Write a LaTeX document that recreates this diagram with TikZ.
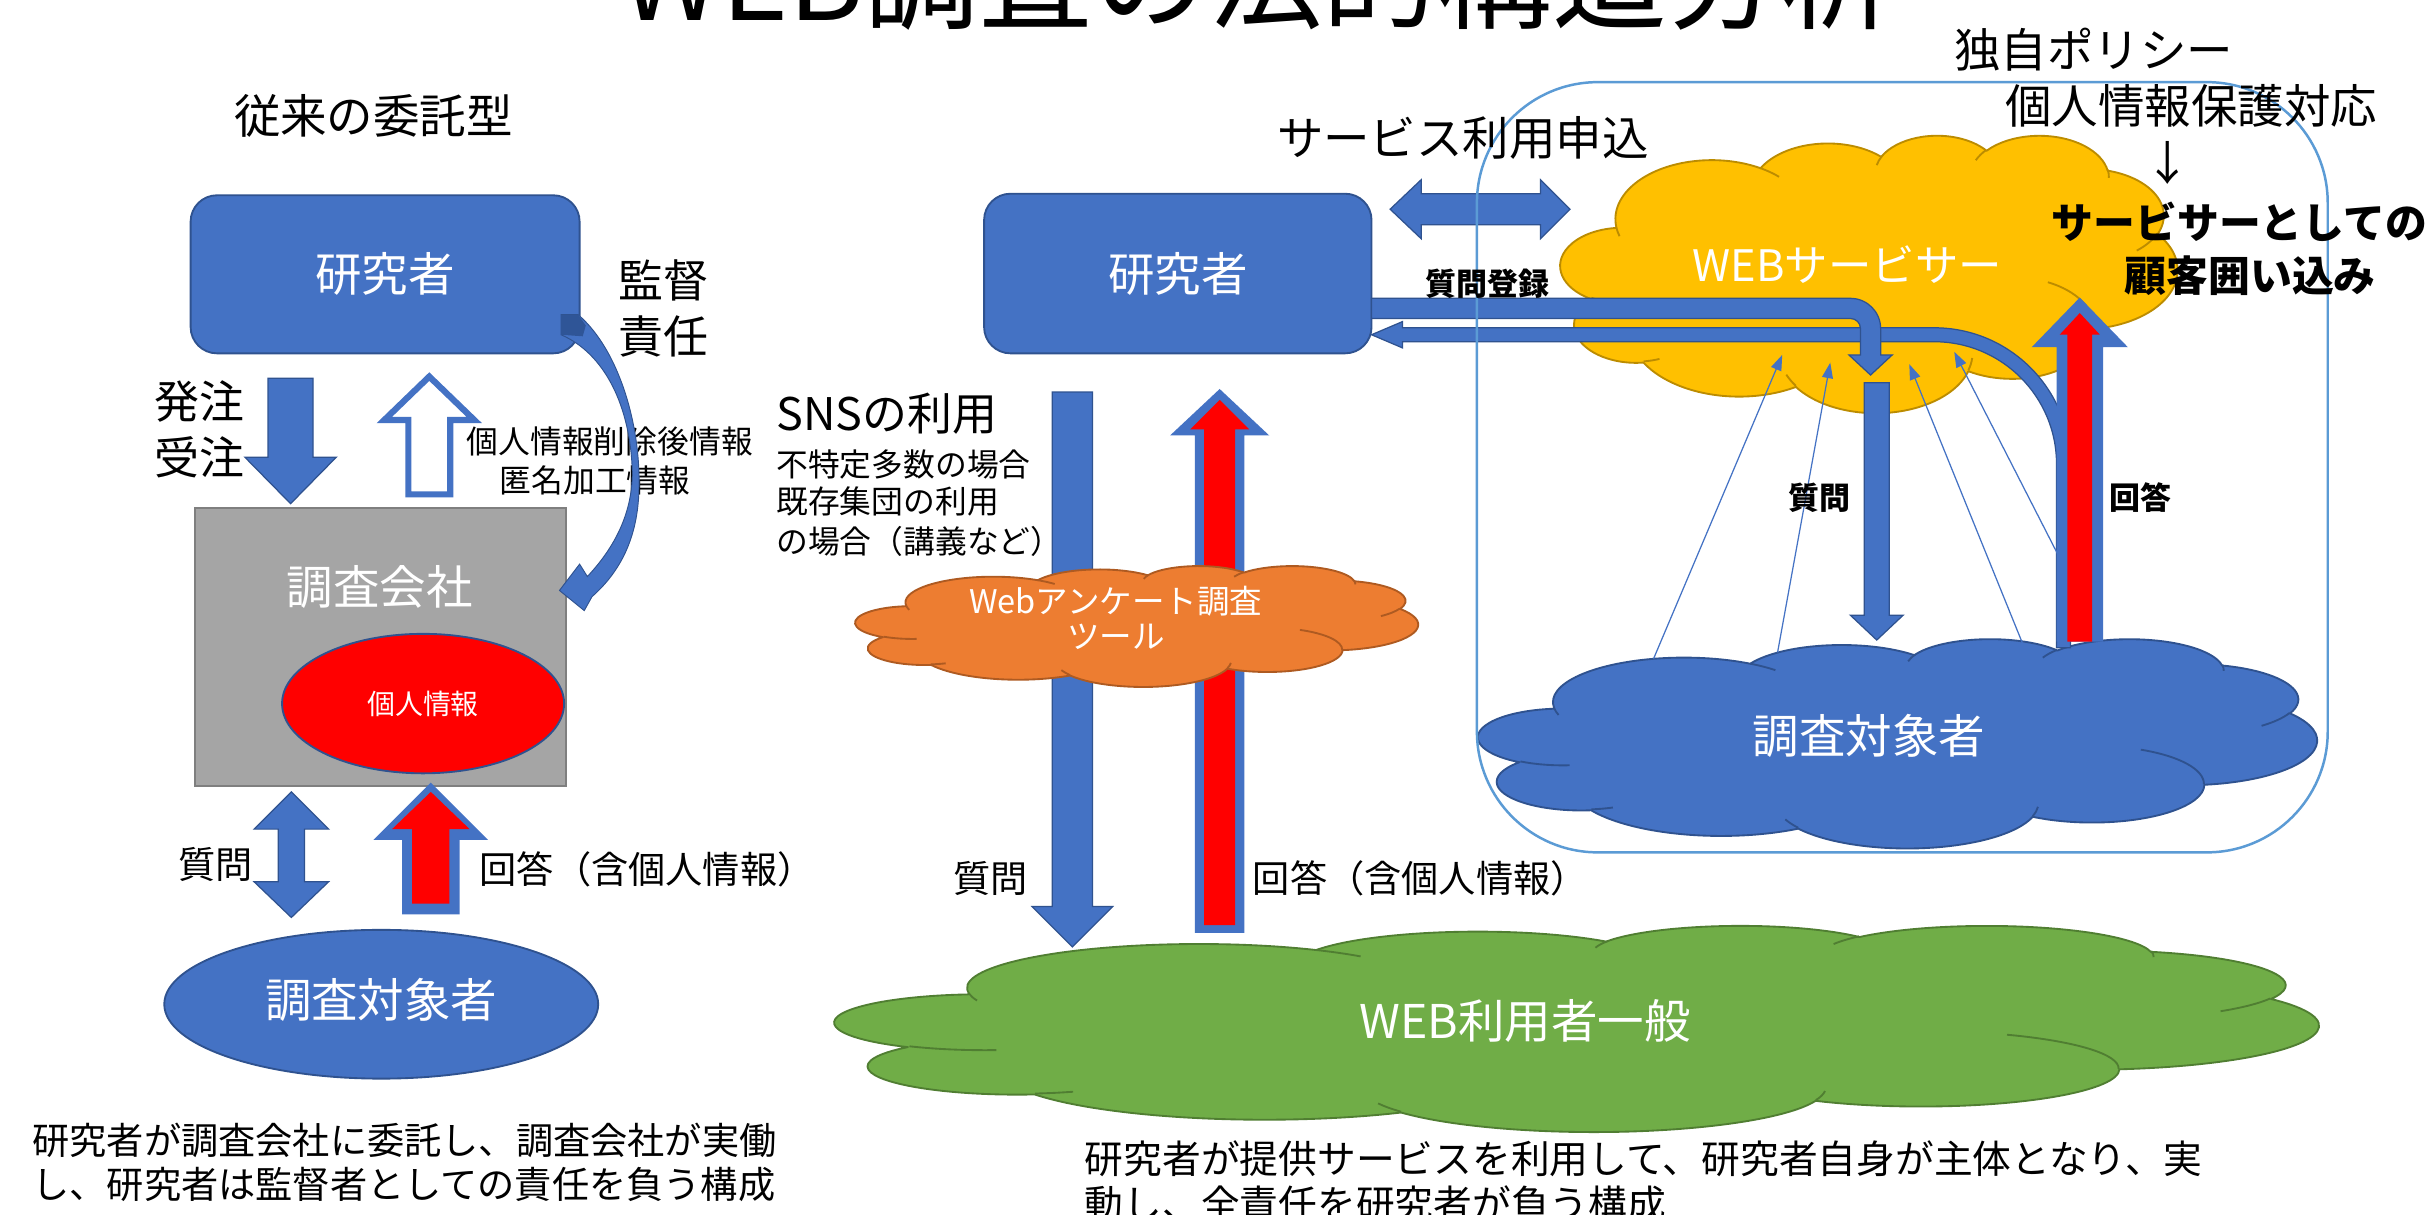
\documentclass[tikz,border=0pt]{standalone}
\usepackage{fontspec}
\setmainfont{Noto Sans CJK JP}
\usetikzlibrary{shapes.geometric,arrows.meta}

\definecolor{accblue}{HTML}{4472C4}
\definecolor{bordblue}{HTML}{2F528F}
\definecolor{darkblue}{HTML}{2F5597}
\definecolor{framblue}{HTML}{5B9BD5}
\definecolor{gold}{HTML}{FFC000}
\definecolor{goldbd}{HTML}{BC8C00}
\definecolor{grn}{HTML}{70AD47}
\definecolor{grnbd}{HTML}{507E32}
\definecolor{orng}{HTML}{ED7D31}
\definecolor{orngbd}{HTML}{AE5A21}
\definecolor{gry}{HTML}{A5A5A5}
\definecolor{grybd}{HTML}{7F7F7F}
\definecolor{redfill}{HTML}{FF0000}

\newcommand\fs[2]{\fontsize{#1}{#2}\selectfont}

% PowerPoint cloud: convert visual angles to parametric ones
\newcommand\mkang[5]{%
  \pgfmathsetmacro\cldA{atan2((#2)*sin(#4),(#3)*cos(#4))}%
  \pgfmathsetmacro\cldB{atan2((#2)*sin((#4)+(#5)),(#3)*cos((#4)+(#5)))}%
  \pgfmathsetmacro\cldD{mod(\cldB-(\cldA)+720,360)}%
  \expandafter\xdef\csname S#1\endcsname{\cldA}%
  \expandafter\xdef\csname D#1\endcsname{\cldD}}
\mkang{oA}{67.53}{91.90}{-190.4875}{123.7805}
\mkang{oB}{53.33}{72.67}{-144.1024}{89.9452}
\mkang{oC}{43.65}{59.45}{-145.8079}{99.7230}
\mkang{oD}{48.57}{65.95}{-130.9861}{117.2417}
\mkang{oE}{53.33}{72.73}{-78.7089}{109.0269}
\mkang{oF}{67.75}{92.20}{-46.2673}{130.2690}
\mkang{oG}{57.85}{78.67}{0.6250}{114.0333}
\mkang{oH}{67.52}{92.15}{22.4516}{115.1726}
\mkang{oI}{77.20}{105.43}{66.2426}{75.7110}
\mkang{oJ}{43.60}{59.18}{-274.9421}{146.7356}
\mkang{oK}{43.45}{59.45}{-246.8285}{152.5189}
\mkang{ia}{43.45}{59.45}{86.7420}{26.4295}
\mkang{ib}{43.60}{59.18}{73.6105}{11.4475}
\mkang{ic}{67.52}{92.15}{137.6242}{14.0811}
\mkang{id}{67.52}{92.15}{6.4533}{15.9984}
\mkang{ie}{57.85}{78.67}{-70.2924}{70.9174}
\mkang{if}{53.33}{72.73}{30.3180}{27.7515}
\mkang{ig}{48.57}{65.95}{-13.7443}{14.8589}
\mkang{ih}{48.57}{65.95}{-149.1815}{18.1954}
\mkang{ii}{43.65}{59.45}{-163.4943}{17.6864}
\mkang{ij}{67.53}{91.90}{-66.7070}{12.3194}
\mkang{ik}{67.53}{91.90}{157.6544}{11.8582}

\newcommand\pptcloud[6]{%
\begin{scope}[shift={(#1,#2)},xscale=#3/432,yscale=#4/432]
\filldraw[fill=#5,draw=#6,line width=1.2pt,line join=round]
 (39,143.7)
 arc[start angle=\SoA,delta angle=\DoA,x radius=67.53,y radius=91.90]
 arc[start angle=\SoB,delta angle=\DoB,x radius=53.33,y radius=72.67]
 arc[start angle=\SoC,delta angle=\DoC,x radius=43.65,y radius=59.45]
 arc[start angle=\SoD,delta angle=\DoD,x radius=48.57,y radius=65.95]
 arc[start angle=\SoE,delta angle=\DoE,x radius=53.33,y radius=72.73]
 arc[start angle=\SoF,delta angle=\DoF,x radius=67.75,y radius=92.20]
 arc[start angle=\SoG,delta angle=\DoG,x radius=57.85,y radius=78.67]
 arc[start angle=\SoH,delta angle=\DoH,x radius=67.52,y radius=92.15]
 arc[start angle=\SoI,delta angle=\DoI,x radius=77.20,y radius=105.43]
 arc[start angle=\SoJ,delta angle=\DoJ,x radius=43.60,y radius=59.18]
 arc[start angle=\SoK,delta angle=\DoK,x radius=43.45,y radius=59.45]
 -- cycle;
\draw[#6,line width=1.2pt]
 (46.93,261.77) arc[start angle=\Sia,delta angle=\Dia,x radius=43.45,y radius=59.45]
 (69.28,348.99) arc[start angle=\Sib,delta angle=\Dib,x radius=43.60,y radius=59.18]
 (164.78,390.90) arc[start angle=\Sic,delta angle=\Dic,x radius=67.52,y radius=92.15]
 (288.27,347.51) arc[start angle=\Sid,delta angle=\Did,x radius=67.52,y radius=92.15]
 (341.29,229.54) arc[start angle=\Sie,delta angle=\Die,x radius=57.85,y radius=78.67]
 (417.98,153.54) arc[start angle=\Sif,delta angle=\Dif,x radius=53.33,y radius=72.73]
 (383.24,54.26) arc[start angle=\Sig,delta angle=\Dig,x radius=48.57,y radius=65.95]
 (290.78,39.52) arc[start angle=\Sih,delta angle=\Dih,x radius=48.57,y radius=65.95]
 (221.41,47.20) arc[start angle=\Sii,delta angle=\Dii,x radius=43.65,y radius=59.45]
 (140.00,51.92) arc[start angle=\Sij,delta angle=\Dij,x radius=67.53,y radius=91.90]
 (41.27,157.89) arc[start angle=\Sik,delta angle=\Dik,x radius=67.53,y radius=91.90];
\end{scope}}

% vertical block arrow: cx, tail y, head-base y, tip y, shaft half, head half
\newcommand\barrow[6]{({#1-#5},#2) -- ({#1+#5},#2) -- ({#1+#5},#3) -- ({#1+#6},#3) -- (#1,#4) -- ({#1-#6},#3) -- ({#1-#5},#3) -- cycle}

\begin{document}
\begin{tikzpicture}[x=1pt,y=-1pt,
  txt/.style={inner sep=0pt,outer sep=0pt},
  wtxt/.style={txt,text=white},
  rbox/.style={draw=bordblue,fill=accblue,text=white,rounded corners=17pt,line width=1.2pt,inner sep=0pt},
  blk/.style={fill=accblue,draw=bordblue,line width=0.8pt},
  thinarr/.style={draw=accblue,line width=0.8pt,-{Triangle[length=10pt,width=7pt]}}]
\fill[white] (0,0) rectangle (1568,784);
\useasboundingbox (0,0) rectangle (1568,784);

% title (cut at the top edge)
\node[txt,anchor=base,font=\fs{74}{80}] (title) at (812,13) {WEB調査の法的構造分析};

% ================= left: traditional =================
\node[txt,font=\fs{30}{36}] (trad) at (241,75) {従来の委託型};
\node[rbox,minimum width=251pt,minimum height=102pt,font=\fs{30}{36}] (resL) at (248.5,177) {研究者};
\node[txt,font=\fs{29}{36},align=center] (kantoku) at (428,199) {監督\\責任};
\node[txt,font=\fs{29}{36},align=center] (hatchu) at (129,277) {発注\\受注};
\node[txt,font=\fs{20.5}{25}] (anon1) at (393.5,285) {個人情報削除後情報};
\node[txt,font=\fs{20.5}{25}] (anon2) at (384,310) {匿名加工情報};

\fill[blk] \barrow{187.5}{244}{295}{325}{14.5}{29.5};
\draw[draw=accblue,fill=white,line width=4pt] \barrow{277}{319}{271}{243}{13.5}{29};

\node[draw=grybd,fill=gry,line width=1.2pt,minimum width=239pt,minimum height=179pt,inner sep=0pt] (comp) at (245.5,417.5) {};
\node[wtxt,font=\fs{30}{36}] (compT) at (245,379) {調査会社};
\node[ellipse,draw=bordblue,fill=redfill,line width=1.2pt,minimum width=182pt,minimum height=90pt,inner sep=0pt,text=white,font=\fs{18}{22}] (pinfo) at (273,454) {個人情報};

% curved supervision arrow
\fill[accblue,draw=bordblue,line width=0.6pt]
  (362,203) -- (373,203)
  .. controls (400,226) and (415,278) .. (412,322)
  .. controls (410,350) and (399,370) .. (382,385)
  -- (377,394) -- (361,381) -- (374,364) -- (379,372)
  .. controls (394,356) and (408,334) .. (408,305)
  .. controls (407,262) and (390,228) .. (362,216) -- cycle;
\fill[darkblue] (362,203) -- (373,203) -- (378,210) -- (376,217) -- (362,216) -- cycle;

% question / answer (left)
\fill[blk] (188,511) -- (212,535) -- (196.5,535) -- (196.5,569) -- (212,569) -- (188,592) -- (164,569) -- (179.5,569) -- (179.5,535) -- (164,535) -- cycle;
\fill[accblue] \barrow{278}{590}{542}{505}{18.5}{37};
\fill[redfill] \barrow{278}{583}{535}{511}{12}{25};
\node[txt,font=\fs{24}{28}] (qL) at (139,558) {質問};
\node[txt,font=\fs{24}{28},anchor=west] (aL) at (309.5,561) {回答（含個人情報）};

\node[ellipse,draw=bordblue,fill=accblue,line width=1.2pt,minimum width=280pt,minimum height=96pt,inner sep=0pt] (subjL) at (246,648) {};
\node[wtxt,font=\fs{30}{36}] (subjLT) at (246,645) {調査対象者};

\node[txt,font=\fs{24}{28},anchor=west] (descL1) at (21,736) {研究者が調査会社に委託し、調査会社が実働};
\node[txt,font=\fs{24}{28},anchor=west] (descL2) at (21,764) {し、研究者は監督者としての責任を負う構成};

% ================= middle: SNS / tools =================
\node[rbox,minimum width=250pt,minimum height=103pt,font=\fs{30}{36}] (resM) at (760,176.5) {研究者};
\node[txt,font=\fs{29}{34},anchor=west] (sns) at (501,267) {SNSの利用};
\node[txt,font=\fs{20.5}{24},anchor=west] (sns1) at (501,300) {不特定多数の場合};
\node[txt,font=\fs{20.5}{24},anchor=west] (sns2) at (501,323.5) {既存集団の利用};
\node[txt,font=\fs{20.5}{24},anchor=west] (sns3) at (501,349.5) {の場合（講義など）};

\pptcloud{539}{597}{957}{133}{grn}{grnbd}
\node[wtxt,font=\fs{30}{36}] (webusers) at (984,659) {WEB利用者一般};

\fill[blk] \barrow{692}{253}{585}{611}{13}{26};
\fill[accblue] \barrow{787}{602}{281}{251}{16}{32};
\fill[redfill] \barrow{787}{597}{277}{258}{10}{19};

\pptcloud{552}{365}{363}{78}{orng}{orngbd}
\node[wtxt,font=\fs{21}{24}] (tool1) at (720,388) {Webアンケート調査};
\node[wtxt,font=\fs{21}{24}] (tool2) at (720,411) {ツール};

\node[txt,font=\fs{24}{28}] (qM) at (639,567) {質問};
\node[txt,font=\fs{24}{28},anchor=west] (aM) at (808.5,567) {回答（含個人情報）};

\node[txt,font=\fs{25}{30},anchor=west] (descR1) at (700,748) {研究者が提供サービスを利用して、研究者自身が主体となり、実};
\node[txt,font=\fs{25}{30},anchor=west] (descR2) at (700,777) {動し、全責任を研究者が負う構成};

% ================= right: web servicer =================
\pptcloud{1007}{87}{398}{179}{gold}{goldbd}
\pptcloud{954}{412}{541}{135}{accblue}{bordblue}
\node[wtxt,font=\fs{28}{34}] (websvc) at (1192,171) {WEBサービサー};
\node[wtxt,font=\fs{30}{36}] (subjR) at (1206,475) {調査対象者};

% service application double arrow
\fill[blk] (897,135) -- (917,116) -- (917,125) -- (994,125) -- (994,116) -- (1013,135) -- (994,154) -- (994,145) -- (917,145) -- (917,154) -- cycle;

% answers returned to researcher
\filldraw[blk] (885,216) -- (905,207.5) -- (905,211.5) -- (1248,211.5)
  arc[start angle=-90,end angle=0,radius=88] -- (1336,418) -- (1327,418) -- (1327,299.5)
  arc[start angle=0,end angle=-90,radius=79] -- (905,220.5) -- (905,224.5) -- cycle;

% respondents answering the service
\coordinate (l1s) at (1067,425); \coordinate (l1e) at (1150,229);
\coordinate (l2s) at (1147,421); \coordinate (l2e) at (1181,234);
\coordinate (l3s) at (1305,415); \coordinate (l3e) at (1232,235);
\coordinate (l4s) at (1352,405); \coordinate (l4e) at (1261,227);
\draw[thinarr] (l1s) -- (l1e);
\draw[thinarr] (l2s) -- (l2e);
\draw[thinarr] (l3s) -- (l3e);
\draw[thinarr] (l4s) -- (l4e);

% question registration bent arrow
\filldraw[blk] (885,192.5) -- (1194,192.5) arc[start angle=-90,end angle=0,radius=19.5]
  -- (1213.5,229) -- (1221,229) -- (1207,242) -- (1193,229) -- (1200.5,229) -- (1200.5,212)
  arc[start angle=0,end angle=-90,radius=6.5] -- (885,205.5) -- cycle;

\fill[blk] \barrow{1211}{247}{397}{413}{8}{17};
\fill[accblue] \barrow{1342}{414}{224}{192}{15}{31};
\fill[redfill] \barrow{1342}{414}{216}{202}{8}{13};

% frame of the service
\node[draw=framblue,line width=1.6pt,rounded corners=78pt,minimum width=549pt,minimum height=497pt,inner sep=0pt] (frame) at (1227.5,301.5) {};

\node[txt,font=\fs{30}{36}] (svc) at (944,89) {サービス利用申込};
\node[txt,font=\bfseries\fs{20}{24}] (qreg) at (960,183) {質問登録};
\node[txt,font=\bfseries\fs{20}{24}] (qR) at (1174,321) {質問};
\node[txt,font=\bfseries\fs{20}{24}] (aR) at (1381,321) {回答};
\node[txt,font=\fs{30}{36}] (pol1) at (1351,32) {独自ポリシー};
\node[txt,font=\fs{30}{36}] (pol2) at (1414,68) {個人情報保護対応};
\node[txt,font=\fs{30}{36}] (darr) at (1399,105) {↓};
\node[txt,font=\bfseries\fs{27}{32}] (lock1) at (1445,143) {サービサーとしての};
\node[txt,font=\bfseries\fs{27}{32}] (lock2) at (1452,178) {顧客囲い込み};
\end{tikzpicture}
\end{document}
